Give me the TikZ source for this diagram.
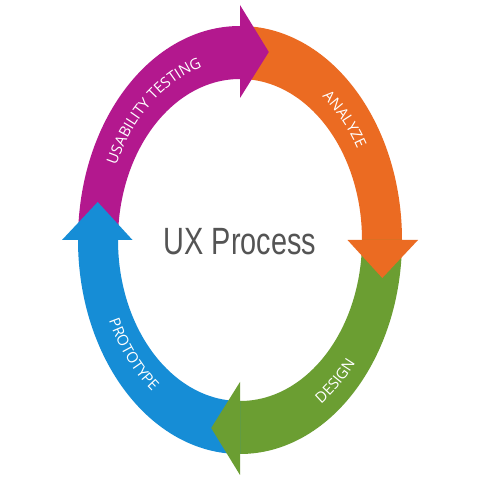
\documentclass[tikz,border=0pt]{standalone}
\usepackage{fontspec}
\usetikzlibrary{decorations.text}
\newfontfamily\lblfont{Open Sans}
\newfontfamily\titlefont[FakeStretch=0.76]{Liberation Sans}
\definecolor{cMag}{HTML}{B3188E}
\definecolor{cOra}{HTML}{EB6B22}
\definecolor{cGre}{HTML}{6B9E32}
\definecolor{cBlu}{HTML}{168DD6}
\definecolor{cTitle}{HTML}{545454}
\newcommand\ringseg[3]{\fill[#1] (#2:122pt and 161pt) arc[start angle=#2,end angle=#3,x radius=122pt,y radius=161pt] -- (#3:162pt and 214pt) arc[start angle=#3,end angle=#2,x radius=162pt,y radius=214pt] -- cycle;}
\tikzset{
  ringlabel/.style={decorate,decoration={text along path,text align=center,text color=white,
    text={|\lblfont\fontsize{15}{15}\selectfont|#1}}}
}
\begin{document}
\begin{tikzpicture}[x=1pt,y=1pt]
\useasboundingbox (0,0) rectangle (480,480);
\fill[white] (0,0) rectangle (480,480);
\begin{scope}[shift={(240,240)}]
  % arrow bodies
  \ringseg{cMag}{180}{90}
  \ringseg{cOra}{90}{0}
  \ringseg{cGre}{0}{-90}
  \ringseg{cBlu}{-90}{-180}
  % arrow heads
  \fill[cMag] (90:107.5pt and 142pt) -- (90:178pt and 235pt) -- (28.8pt,188pt) -- cycle;
  \fill[cOra] (0:107.5pt and 142pt) -- (0:178pt and 235pt) -- (142.3pt,-38pt) -- cycle;
  \fill[cGre] (-90:107.5pt and 142pt) -- (-90:178pt and 235pt) -- (-28.8pt,-188pt) -- cycle;
  \fill[cBlu] (180:107.5pt and 142pt) -- (180:178pt and 235pt) -- (-142.3pt,38pt) -- cycle;
  % labels along the ring
  \path[ringlabel={USABILITY TESTING}] (171.5:136pt and 180pt) arc[start angle=171.5,end angle=85.5,x radius=136pt,y radius=180pt];
  \path[ringlabel={ANALYZE}] (88:136pt and 180pt) arc[start angle=88,end angle=2,x radius=136pt,y radius=180pt];
  \path[ringlabel={DESIGN}] (-95:148.5pt and 196pt) arc[start angle=-95,end angle=-8,x radius=148.5pt,y radius=196pt];
  \path[ringlabel={PROTOTYPE}] (182:144.5pt and 191pt) arc[start angle=182,end angle=260.8,x radius=144.5pt,y radius=191pt];
  % title
  \node[anchor=base,inner sep=0pt,text=cTitle,font=\titlefont\fontsize{38}{38}\selectfont] (title) at (0,-15) {UX Process};
\end{scope}
\end{tikzpicture}
\end{document}
